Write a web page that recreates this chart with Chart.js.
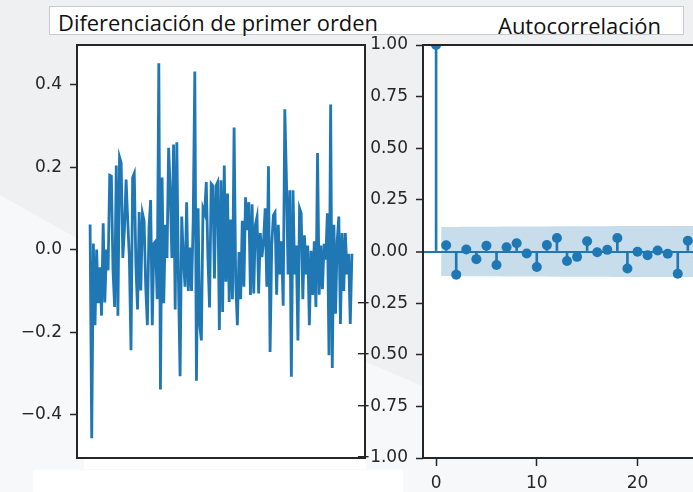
<!DOCTYPE html>
<html><head><meta charset="utf-8">
<script src="https://cdn.jsdelivr.net/npm/chart.js@4"></script>
<style>
html,body{margin:0;padding:0;}
body{width:693px;height:492px;overflow:hidden;position:relative;background:#eef0f2;font-family:"Open Sans",sans-serif;}
#bgLight{position:absolute;left:0;top:0;width:693px;height:492px;background:#f7f8f9;clip-path:polygon(0 195px,80px 240px,420px 385px,693px 430px,693px 492px,0 492px);}
#titleBox{position:absolute;left:49px;top:6px;width:633px;height:27px;background:#fff;border:1px solid #c9cbcf;}
.title{position:absolute;white-space:nowrap;color:#111;font-size:22px;line-height:22px;transform-origin:0 0;}
canvas{position:absolute;top:0;}
#c1{left:0}
#c2{left:340px}
.strip{position:absolute;background:#fff;}
</style></head><body>
<div id="bgLight"></div>
<div id="titleBox"></div>
<div class="title" id="t1" style="left:58px;top:10.5px">Diferenciación de primer orden</div>
<div class="title" id="t2" style="left:497.5px;top:13.8px">Autocorrelación</div>
<canvas id="c1" width="380" height="480"></canvas>
<canvas id="c2" width="400" height="492"></canvas>
<div class="strip" style="left:84px;top:459px;width:282px;height:10px"></div>
<div class="strip" style="left:33px;top:470px;width:370px;height:22px"></div>
<script>
// ---- data ----
const diffValues = [
 0.061, -0.457, 0.015, -0.183, 0.0, -0.13, -0.043, -0.16, 0.064, -0.128,
 0.0, -0.05, 0.18, 0.178, -0.05, -0.139, 0.204, -0.16, 0.224, 0.21,
 -0.02, 0.05, 0.17, 0.071, -0.02, -0.244, 0.175, 0.185, -0.04, -0.145,
 0.091, -0.099, 0.088, 0.07, -0.09, -0.183, 0.055, 0.12, -0.183, 0.015,
 0.02, -0.12,
 0.452, -0.339, 0.175, -0.13, 0.06, -0.02, 0.247, 0.14, -0.02, 0.255,
 -0.145, 0.26, -0.074, -0.307, 0.08, -0.02, -0.09, 0.115, -0.1, 0.005,
 -0.1, 0.07,
 0.432, -0.318, 0.1, -0.183, -0.22, 0.1, 0.088, 0.164, -0.02, -0.14,
 0.16, 0.155, -0.07, 0.155, 0.164, -0.195, 0.168, -0.151, 0.204, -0.078,
 0.136, -0.127, 0.073, -0.12,
 0.296, -0.08, -0.183, -0.006, -0.12, 0.07, -0.09, 0.127, 0.047, 0.115,
 -0.11, 0.11, -0.106, 0.06, 0.079, -0.106, 0.04, -0.018, 0.02, 0.1,
 -0.09, 0.202, -0.248, 0.01, 0.083, 0.09, -0.109, 0.06, -0.06, 0.02,
 -0.136,
 0.34, 0.168, -0.06, 0.144, -0.308, 0.144, -0.06, 0.01, -0.22, 0.1,
 0.088, -0.12, 0.035, -0.06, 0.01, -0.183, -0.003, -0.11, 0.02, -0.139,
 0.234, -0.109, 0.01, -0.096, 0.014, -0.024, 0.088, -0.256, 0.352, -0.287,
 0.06, -0.155, 0.02, 0.08, -0.18, 0.04, -0.1, 0.04, -0.06, -0.01,
 -0.18, -0.01
];
const leftYTicks = [-0.4, -0.2, 0, 0.2, 0.4];

const acfLags = [0,1,2,3,4,5,6,7,8,9,10,11,12,13,14,15,16,17,18,19,20,21,22,23,24,25,26];
const acfValues = [1, 0.03, -0.112, 0.01, -0.037, 0.028, -0.065, 0.021, 0.04, -0.01,
 -0.075, 0.031, 0.065, -0.046, -0.026, 0.05, -0.004, 0.008, 0.065, -0.082,
 -0.001, -0.018, 0.005, -0.011, -0.108, 0.052, -0.03];
const confHalf = [0.119, 0.119, 0.120, 0.120, 0.120, 0.120, 0.121, 0.121, 0.121, 0.121,
 0.121, 0.122, 0.122, 0.122, 0.122, 0.122, 0.122, 0.123, 0.123, 0.123,
 0.123, 0.123, 0.123, 0.124, 0.124, 0.124];
const rightYTicks = [-1, -0.75, -0.5, -0.25, 0, 0.25, 0.5, 0.75, 1];
const rightXTicks = [0, 10, 20];

// ---- helpers ----
function fmt(v, d){ return (v < 0 ? '\u2212' : '') + Math.abs(v).toFixed(d); }
const tickFont = {family:'DejaVu Sans', size:17};
const frame = {
  id:'frame',
  beforeDraw(chart){ const {ctx, chartArea:a} = chart; ctx.save(); ctx.fillStyle='#fff'; ctx.fillRect(a.left,a.top,a.right-a.left,a.bottom-a.top); ctx.restore(); },
  afterDraw(chart){ const {ctx, chartArea:a} = chart; ctx.save(); ctx.strokeStyle='#262626'; ctx.lineWidth=2; ctx.strokeRect(a.left,a.top,a.right-a.left,a.bottom-a.top); ctx.restore(); }
};

// titles: fit widths
function fit(id, w){ const el=document.getElementById(id); const r=el.getBoundingClientRect().width; el.style.transform='scaleX('+(w/r)+')'; }
fit('t1', 320); fit('t2', 163);

const n = diffValues.length - 1;
// ---- left chart ----
new Chart(document.getElementById('c1'), {
  type:'line',
  data:{datasets:[{
    data: diffValues.map((v,i)=>({x:i, y:v})),
    borderColor:'#1f77b4', borderWidth:2.8, pointRadius:0, tension:0, fill:false
  }]},
  options:{
    responsive:false, animation:false, devicePixelRatio:1,
    layout:{padding:{top:45, right:15, bottom:22, left:0}},
    plugins:{legend:{display:false}, tooltip:{enabled:false}},
    scales:{
      x:{type:'linear', min:-0.05*n, max:1.05*n, display:false},
      y:{type:'linear', min:-0.505, max:0.496,
         afterFit(s){ s.width = 77; },
         afterBuildTicks(s){ s.ticks = leftYTicks.map(v=>({value:v})); },
         ticks:{padding:8, color:'#262626', font:tickFont, callback:v=>fmt(v,1)},
         grid:{drawOnChartArea:false, drawTicks:true, tickLength:7, tickColor:'#262626', tickWidth:1.5},
         border:{display:false}}
    }
  },
  plugins:[frame]
});

// ---- right chart (ACF) ----
const bandX = acfLags.slice(1).map((l,i,arr)=> i===0 ? l-0.5 : (i===arr.length-1 ? l+0.5 : l));
new Chart(document.getElementById('c2'), {
  type:'bar',
  data:{datasets:[
    {type:'scatter', data: acfLags.map((l,i)=>({x:l, y:acfValues[i]})), pointRadius:5, pointBackgroundColor:'#1f77b4', backgroundColor:'#1f77b4', borderWidth:0, pointBorderWidth:0, clip:0, order:0},
    {type:'bar', data: acfLags.map((l,i)=>({x:l, y:[0, acfValues[i]]})), backgroundColor:'#1f77b4', barThickness:2, order:1},
    {type:'line', data: bandX.map((x,i)=>({x:x, y:confHalf[i]})), fill:'+1', backgroundColor:'rgba(31,119,180,0.25)', borderColor:'rgba(0,0,0,0)', borderWidth:0, pointRadius:0, order:2},
    {type:'line', data: bandX.map((x,i)=>({x:x, y:-confHalf[i]})), fill:false, borderColor:'rgba(0,0,0,0)', borderWidth:0, pointRadius:0, order:3}
  ]},
  options:{
    responsive:false, animation:false, devicePixelRatio:1,
    layout:{padding:{top:45, right:29, bottom:0, left:0}},
    plugins:{legend:{display:false}, tooltip:{enabled:false}},
    scales:{
      x:{type:'linear', min:-1.3, max:27.3, offset:false,
         afterFit(s){ s.height = 34; },
         afterBuildTicks(s){ s.ticks = rightXTicks.map(v=>({value:v})); },
         ticks:{padding:7, autoSkip:false, maxRotation:0, color:'#262626', font:tickFont, callback:v=>String(v)},
         grid:{drawOnChartArea:false, drawTicks:true, tickLength:8, tickColor:'#262626', tickWidth:1.5, offset:false},
         border:{display:false}},
      y:{type:'linear', min:-1, max:1,
         afterFit(s){ s.width = 83; },
         afterBuildTicks(s){ s.ticks = rightYTicks.map(v=>({value:v})); },
         ticks:{padding:8, color:'#262626', font:tickFont, callback:v=>fmt(v,2)},
         grid:{drawOnChartArea:true, drawTicks:true, tickLength:7, tickColor:'#262626', tickWidth:1.5,
               color:c=> (c.tick && c.tick.value===0) ? '#1f77b4' : 'rgba(0,0,0,0)',
               lineWidth:c=> (c.tick && c.tick.value===0) ? 2 : 1},
         border:{display:false}}
    }
  },
  plugins:[frame]
});
</script>
</body></html>
